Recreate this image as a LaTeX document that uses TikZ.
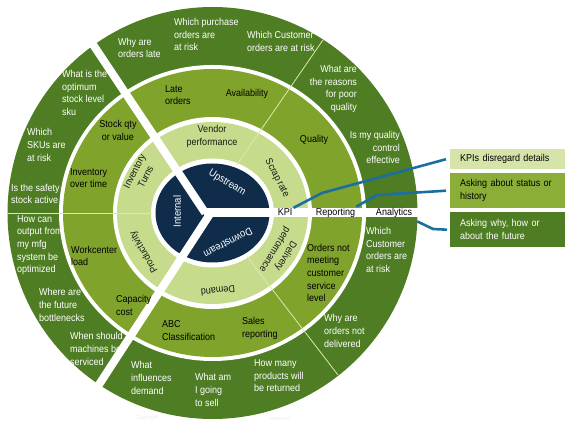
\documentclass[tikz,border=0pt]{standalone}
\usepackage{fontspec}
\setmainfont{Liberation Sans}[FakeStretch=0.9]
\usetikzlibrary{calc}
\definecolor{ringD}{HTML}{4E7D23}
\definecolor{ringM}{HTML}{80A32C}
\definecolor{ringL}{HTML}{C6DB8C}
\definecolor{core}{HTML}{0F2D4B}
\definecolor{boxL}{HTML}{D6E4AA}
\definecolor{boxM}{HTML}{8BAE38}
\definecolor{boxD}{HTML}{4E7D23}
\definecolor{conn}{HTML}{1B6FA0}
\definecolor{thinline}{HTML}{DCE8B0}
\begin{document}
\begin{tikzpicture}[x=1pt,y=-1pt,
  txt/.style={inner sep=0pt, font=\fontsize{10}{12.6}\selectfont},
  qtxt/.style={txt, text=white, align=left, anchor=west},
  qtxtr/.style={txt, text=white, align=right, anchor=east},
  mtxt/.style={txt, text=black, align=left, anchor=west},
  mtxtc/.style={txt, text=black, align=center},
  ltxt/.style={txt, text=black!90, align=center},
  ctxt/.style={txt, text=white, font=\fontsize{10.5}{13}\selectfont},
  bandlbl/.style={txt, text=black, inner sep=1pt},
  legend/.style={anchor=north west, minimum width=115pt, text width=95pt,
     inner xsep=10pt, inner ysep=0pt, align=left, font=\fontsize{10}{12.6}\selectfont},
  conline/.style={conn, line width=2.6pt},
  spoke/.style={white, line width=8pt},
  divider/.style={thinline, line width=0.8pt},
  faint/.style={inner sep=0pt, text=black!7, font=\fontsize{6}{7}\selectfont}
]
\useasboundingbox (0,0) rectangle (575,427);
\coordinate (c) at (212.5,213);
% rings
\fill[ringD] (c) ellipse [x radius=205pt, y radius=206pt];
\fill[white] (c) ellipse [x radius=153.5pt, y radius=148pt];
\fill[ringM] (c) ellipse [x radius=149.5pt, y radius=144pt];
\fill[white] (c) ellipse [x radius=99.5pt, y radius=96pt];
\fill[ringL] (c) ellipse [x radius=95.5pt, y radius=91pt];
\fill[white] (c) ellipse [x radius=61.5pt, y radius=54.5pt];
\fill[core] (c) ellipse [x radius=57pt, y radius=49.5pt];
% thin dividers
\coordinate (t1a) at (236.7,165);  \coordinate (t1b) at (323,40);
\coordinate (t2a) at (247,256.5);  \coordinate (t2b) at (338,375);
\coordinate (t3a) at (152,213.5);  \coordinate (t3b) at (7.5,213.5);
\draw[divider] (t1a) -- (t1b);
\draw[divider] (t2a) -- (t2b);
\draw[divider] (t3a) -- (t3b);
% spokes
\coordinate (s1a) at (205.3,213); \coordinate (s1b) at (80,25);
\coordinate (s2a) at (210.6,213); \coordinate (s2b) at (89,400);
\draw[spoke] (s1a) -- (s1b);
\draw[spoke] (s2a) -- (s2b);
\fill[white] (204,208.5) rectangle (418,217);
% band labels
\node (kpi) [bandlbl] at (285,212.5) {KPI};
\node (rep) [bandlbl] at (335.5,212.5) {Reporting};
\node (ana) [bandlbl] at (394,212.5) {Analytics};
% core
\node (up) [ctxt, rotate=-31] at (227,183) {Upstream};
\node (int) [ctxt, rotate=90] at (177,211.5) {Internal};
\node (down) [ctxt, rotate=-153] at (228,243) {Downstream};
% ring 2
\node (vendor) [ltxt] at (212,136.5) {Vendor\\performance};
\node (scrap) [ltxt, rotate=-62.5] at (277,178) {Scrap rate};
\node (deliv) [ltxt, rotate=-121] at (280,253) {Delivery\\performance};
\node (demand) [ltxt, rotate=-174] at (218,291) {Demand};
\node (prod) [ltxt, rotate=120] at (144,252) {Productivity};
\node (turns) [ltxt, rotate=63] at (140,174) {Inventory\\Turns};
% ring 3
\node (m1) [mtxt] at (165,95) {Late\\orders};
\node (m2) [mtxtc] at (247,94) {Availability};
\node (m3) [mtxtc] at (314,140) {Quality};
\node (m4) [mtxtc] at (118,130.5) {Stock qty\\or value};
\node (m5) [mtxt] at (70,178) {Inventory\\over time};
\node (m6) [mtxt] at (71,256) {Workcenter\\load};
\node (m7) [mtxt] at (116,305.5) {Capacity\\cost};
\node (m8) [mtxt] at (162,330.5) {ABC\\Classification};
\node (m9) [mtxt] at (242,328.5) {Sales\\reporting};
\node (m10) [mtxt] at (307,273) {Orders not\\meeting\\customer\\service\\level};
% ring 4
\node (q1) [qtxt] at (118,48) {Why are\\orders late};
\node (q2) [qtxt] at (174,34.5) {Which purchase\\orders are\\at risk};
\node (q3) [qtxt] at (247,41.5) {Which Customer\\orders are at risk};
\node (q4) [qtxtr] at (357,89) {What are\\the reasons\\for poor\\quality};
\node (q5) [qtxtr] at (400,147.5) {Is my quality\\control\\effective};
\node (q6) [qtxt] at (62,93) {What is the\\optimum\\stock level\\sku};
\node (q7) [qtxt] at (27,145) {Which\\SKUs are\\at risk};
\node (q8) [qtxt] at (11,194) {Is the safety\\stock active};
\node (q9) [qtxt] at (17,245) {How can\\output from\\my mfg\\system be\\optimized};
\node (q10) [qtxt] at (39,305) {Where are\\the future\\bottlenecks};
\node (q11) [qtxt] at (70,349) {When should\\machines be\\serviced};
\node (q12) [qtxt] at (131,378) {What\\influences\\demand};
\node (q13) [qtxt] at (195,390) {What am\\I going\\to sell};
\node (q14) [qtxt] at (254,376) {How many\\products will\\be returned};
\node (q15) [qtxt] at (324,331) {Why are\\orders not\\delivered};
\node (q16) [qtxt] at (366,250) {Which\\Customer\\orders are\\at risk};
% legend
\node (box1) [legend, fill=boxL, minimum height=20pt, text=black] at (450,149) {KPIs disregard details};
\node (box2) [legend, fill=boxM, minimum height=35pt, text=black] at (450,173) {Asking about status or\\history};
\node (box3) [legend, fill=boxD, minimum height=35pt, text=white] at (450,212) {Asking why, how or\\about the future};
% connectors
\coordinate (k1) at (322,193);
\coordinate (r1) at (377,195);
\coordinate (a1) at (433,229);
\draw[conline] (kpi.north east) -- (k1) -- ([xshift=-4pt]box1.west);
\draw[conline] (rep.north east) -- (r1) -- ([xshift=-4pt]box2.west);
\draw[conline] ($(ana.south east)+(4,3)$) -- (a1) -- ([xshift=-3pt]box3.west);
% faint footer
\node (cp1) [faint] at (147,418) {Copyright};
\node (cp2) [faint] at (280,418) {reserved.};
\end{tikzpicture}
\end{document}
